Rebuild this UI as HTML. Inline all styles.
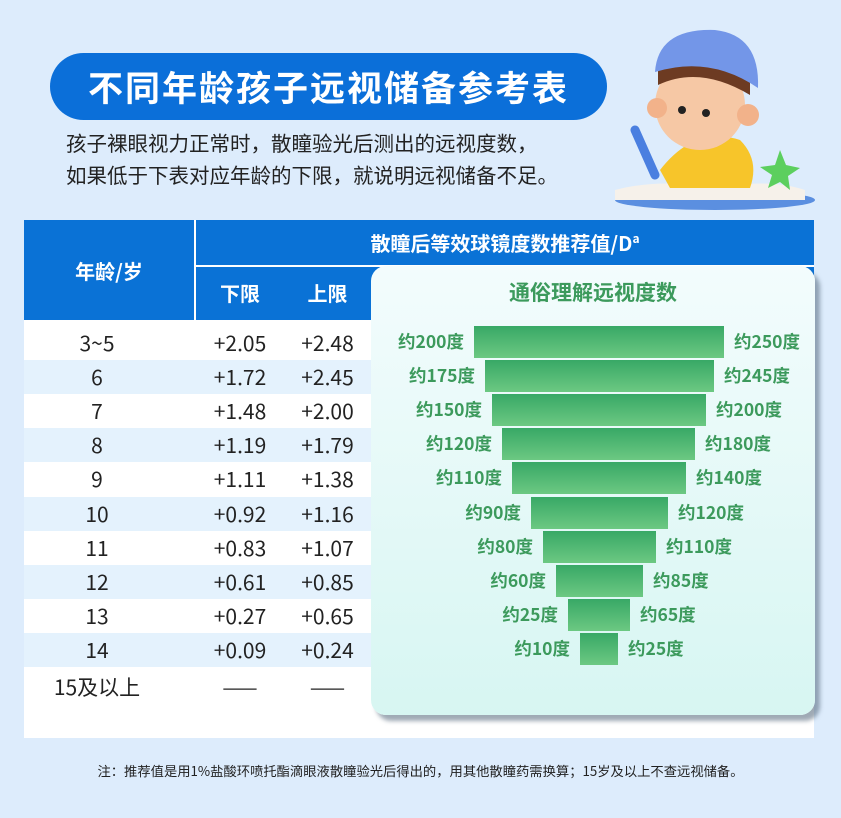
<!DOCTYPE html>
<html><head><meta charset="utf-8"><style>
*{margin:0;padding:0;box-sizing:border-box}
body{width:841px;height:818px;background:#ddecfc;font-family:"Noto Sans CJK SC","Liberation Sans",sans-serif;position:relative;overflow:hidden}
.abs{position:absolute}
.pill{left:50px;top:53px;width:557px;height:67px;background:#0b6fd9;border-radius:34px;color:#fff;font-size:35px;font-weight:bold;text-align:center;line-height:67px;letter-spacing:2px}
.sub{left:66px;font-size:20.5px;color:#222;line-height:26px;white-space:nowrap}
.tbl{left:24px;top:220px;width:790px;height:518px;background:#fff}
.hd{background:#0a72d6;color:#fff;font-weight:bold;font-size:20px;display:flex;align-items:center;justify-content:center}
.row{left:24px;width:347px;height:34px;font-size:21px;color:#222}
.row span{position:absolute;top:0;line-height:34px;text-align:center}
.card{left:371px;top:266px;width:444px;height:449px;border-radius:15px;background:linear-gradient(180deg,#f3fcfd,#d7f6f2);box-shadow:5px 6px 4px rgba(80,100,120,.55)}
.bar{position:absolute;height:32px;background:linear-gradient(180deg,#38a866,#6cc882)}
.lb{position:absolute;font-size:17.5px;font-weight:bold;color:#3c9a5c;line-height:32px;white-space:nowrap}
</style></head><body>
<div class="abs pill">不同年龄孩子远视储备参考表</div>
<div class="abs sub" style="top:129px">孩子裸眼视力正常时，散瞳验光后测出的远视度数，</div>
<div class="abs sub" style="top:161px">如果低于下表对应年龄的下限，就说明远视储备不足。</div>
<svg class="abs" style="left:600px;top:10px" width="230" height="200">
<ellipse cx="115" cy="190" rx="100" ry="10" fill="#5b8fe0"/>
<path d="M15 180 Q60 168 115 178 Q170 168 205 180 L205 190 L15 190Z" fill="#f6f1ea"/>
<path d="M60 160 Q95 115 140 130 Q160 150 150 178 L70 178Z" fill="#f7c52a"/>
<circle cx="100" cy="95" r="45" fill="#f6c8a5"/>
<circle cx="57" cy="98" r="10" fill="#f2b28a"/><circle cx="148" cy="105" r="11" fill="#f2b28a"/>
<path d="M58 75 Q100 55 150 85 L150 65 Q100 45 58 60Z" fill="#6d3b22"/>
<path d="M55 62 Q58 18 115 20 Q160 25 158 78 Q110 45 55 62Z" fill="#7396e8"/>
<circle cx="82" cy="100" r="4" fill="#222"/><circle cx="106" cy="103" r="4" fill="#222"/>
<path d="M35 120 L55 165" stroke="#4a7fe0" stroke-width="9" stroke-linecap="round"/>
<path d="M180 140 L186 155 L200 158 L188 166 L190 180 L180 172 L168 178 L172 165 L160 157 L175 155Z" fill="#5ccf5e"/>
</svg>
<div class="abs tbl"></div>
<div class="abs hd" style="left:24px;top:220px;width:170px;height:100px">年龄/岁</div>
<div class="abs hd" style="left:196px;top:220px;width:618px;height:45px">散瞳后等效球镜度数推荐值/D<sup style="font-size:12px;margin-top:-8px">a</sup></div>
<div class="abs hd" style="left:196px;top:267px;width:618px;height:53px"></div>
<div class="abs" style="left:196px;top:267px;width:88px;height:53px;color:#fff;font-weight:bold;font-size:20px;line-height:51px;text-align:center">下限</div>
<div class="abs" style="left:284px;top:267px;width:87px;height:53px;color:#fff;font-weight:bold;font-size:20px;line-height:51px;text-align:center">上限</div>
<div id="rows"></div>
<div class="abs card"></div>
<div class="abs" style="left:371px;top:278px;width:444px;text-align:center;font-size:21px;line-height:28px;font-weight:bold;color:#3c9a5c">通俗理解远视度数</div>
<div id="bars"></div>
<div class="abs" style="left:0;top:762px;width:841px;text-align:center;font-size:13.3px;line-height:18px;color:#222;white-space:nowrap">注：推荐值是用1%盐酸环喷托酯滴眼液散瞳验光后得出的，用其他散瞳药需换算；15岁及以上不查远视储备。</div>
<script>
var d=[["3~5","+2.05","+2.48"],["6","+1.72","+2.45"],["7","+1.48","+2.00"],["8","+1.19","+1.79"],["9","+1.11","+1.38"],["10","+0.92","+1.16"],["11","+0.83","+1.07"],["12","+0.61","+0.85"],["13","+0.27","+0.65"],["14","+0.09","+0.24"],["15及以上","——","——"]];
var h="";
d.forEach(function(r,i){var t=326+i*34.1+(i==10?3:0);
h+='<div class="abs row" style="top:'+t+'px;'+(i%2==1&&i<10?'background:#e4f2fd':'')+'"><span style="left:0;width:146px">'+r[0]+'</span><span style="left:172px;width:88px">'+r[1]+'</span><span style="left:260px;width:87px">'+r[2]+'</span></div>';});
document.getElementById("rows").innerHTML=h;
var b=[[474,724,200,250],[485,714,175,245],[492,706,150,200],[502,695,120,180],[512,686,110,140],[531,668,90,120],[543,656,80,110],[556,643,60,85],[568,630,25,65],[580,618,10,25]];
h="";
b.forEach(function(r,i){var t=326+i*34.1;
h+='<div class="bar" style="left:'+r[0]+'px;top:'+t+'px;width:'+(r[1]-r[0])+'px"></div>';
h+='<div class="lb" style="right:'+(841-r[0]+10)+'px;top:'+t+'px">约'+r[2]+'度</div>';
h+='<div class="lb" style="left:'+(r[1]+10)+'px;top:'+t+'px">约'+r[3]+'度</div>';});
document.getElementById("bars").innerHTML=h;
</script>
</body></html>
